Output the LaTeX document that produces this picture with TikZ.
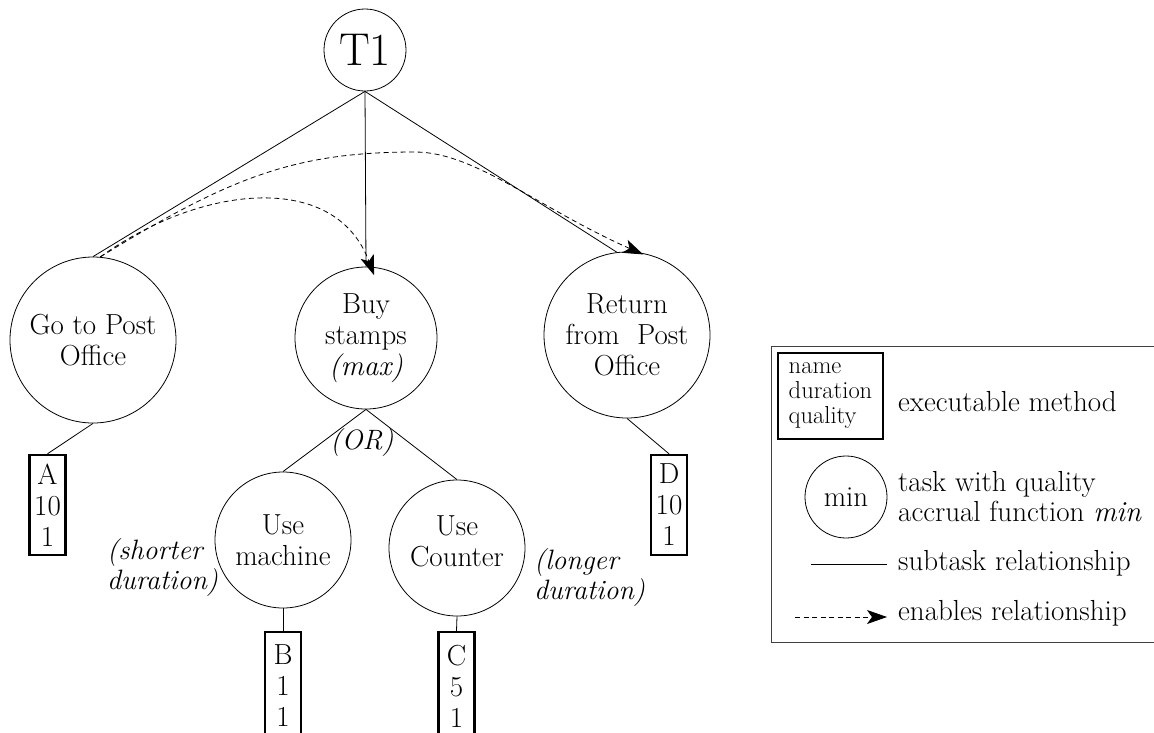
\documentclass[tikz,border=0pt]{standalone}
\usepackage{fontspec}
\usetikzlibrary{arrows.meta}
\begin{document}
\begin{tikzpicture}[x=1pt,y=-1pt,
  every node/.style={font=\fontsize{29}{31}\selectfont, inner sep=0pt},
  task/.style={draw, circle, line width=0.8pt, align=center},
  method/.style={draw, rectangle, line width=2.4pt, minimum width=36pt,
    minimum height=100pt, align=center},
  sub/.style={line width=0.8pt},
  enables/.style={line width=0.8pt, dash pattern=on 5pt off 3.5pt,
    -{Stealth[length=20pt,width=14pt,inset=5pt]}},
  lbl/.style={font=\fontsize{28}{30}\selectfont\itshape, align=left},
  keytext/.style={anchor=west, align=left, font=\fontsize{29}{30}\selectfont},
]
\useasboundingbox (0,0) rectangle (1154,732);

% task tree
\node[task, minimum size=82pt, font=\fontsize{46}{48}\selectfont] (t1) at (365,50) {T1};
\node[task, minimum size=166pt] (go) at (93,340) {Go to Post\\Office};
\node[task, minimum size=142pt] (buy) at (366,338) {Buy\\stamps\\\textit{(max)}};
\node[task, minimum size=166pt] (ret) at (627,335) {Return\\from\ \ Post\\Office};
\node[task, minimum size=136pt] (um) at (283,540) {Use\\machine};
\node[task, minimum size=136pt,
  label={[align=center, yshift=7pt]center:Use\\Counter}] (uc) at (457,548) {};

% executable methods
\node[method] (a) at (47.5,505) {A\\10\\1};
\node[method] (d) at (669,505) {D\\10\\1};
\node[method, minimum height=108pt] (b) at (283,686) {B\\1\\1};
\node[method, minimum height=108pt] (c) at (456.5,686) {C\\5\\1};

% annotations
\node[lbl] (orlbl) at (362,443) {(OR)};
\node[lbl, anchor=west] (short) at (107,568) {(shorter\\duration)};
\node[lbl, anchor=west] (long) at (534,578) {(longer\\duration)};

% subtask relationships
\draw[sub] (t1.south) -- (go.north);
\draw[sub] (t1.south) -- (buy.north);
\draw[sub] (t1.south) -- (ret.97);
\draw[sub] (go.south) -- (a.north);
\draw[sub] (ret.south) -- (d.north);
\draw[sub] (buy.south) -- (um.north);
\draw[sub] (buy.south) -- (uc.north);
\draw[sub] (um.south) -- (b.north);
\draw[sub] (uc.south) -- (c.north);

% enables relationships
\coordinate (peak) at (415,152);
\draw[enables, shorten >=-9pt] (go.85) .. controls (200,185) and (335,170) .. (buy.86);
\draw[enables, shorten >=-5pt] (go.85) .. controls (230,177) and (295,152) .. (peak)
  .. controls (475,152) and (538,208) .. (ret.82);

% legend
\node[draw=black!75, line width=0.9pt, minimum width=390pt, minimum height=296pt,
  anchor=north west] (legend) at (771,346) {};
\node[draw, line width=2.4pt, minimum width=105pt, minimum height=86pt, align=left,
  font=\fontsize{24.5}{25}\selectfont] (mkey) at (830.5,396) {name\\duration\\quality};
\node[keytext] (mtext) at (898,402) {executable method};
\node[task, minimum size=82pt] (tkey) at (846,497) {min};
\node[keytext] (ttext) at (898,497) {task with quality\\accrual function \textit{min}};
\coordinate (s1) at (811,564);
\coordinate (s2) at (887,564);
\draw[sub] (s1) -- (s2);
\node[keytext] (stext) at (898,563) {subtask relationship};
\coordinate (e1) at (795,617);
\coordinate (e2) at (887,617);
\draw[enables] (e1) -- (e2);
\node[keytext] (etext) at (898,613) {enables relationship};
\end{tikzpicture}
\end{document}
